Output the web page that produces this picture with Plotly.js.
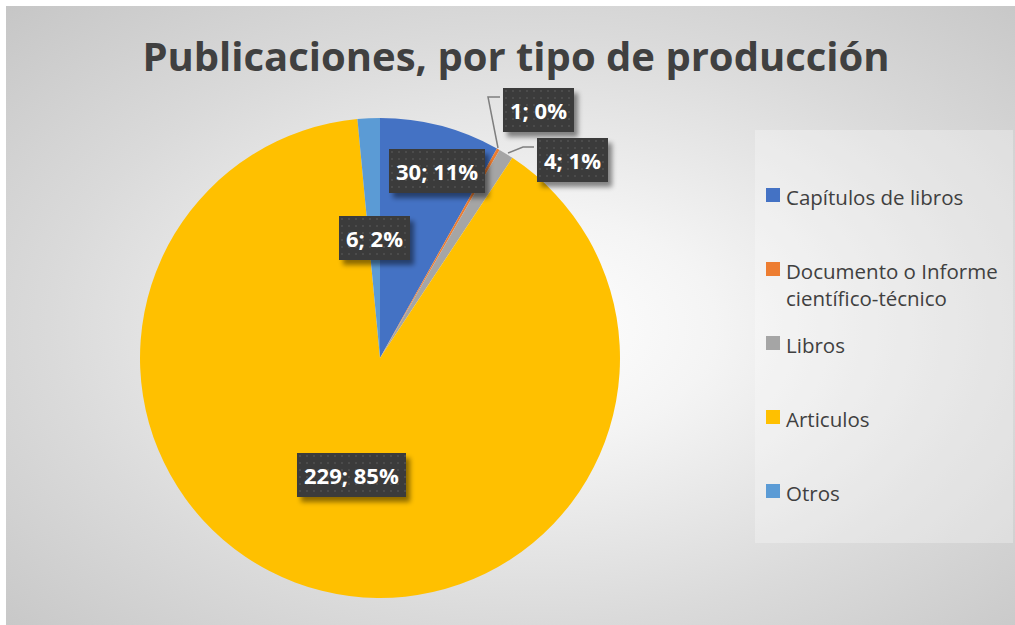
<!DOCTYPE html>
<html>
<head>
<meta charset="utf-8">
<script src="https://cdn.plot.ly/plotly-3.0.1.min.js"></script>
<style>
  html, body { margin: 0; padding: 0; background: #ffffff; }
  #bg {
    position: absolute; left: 6px; top: 6px; width: 1009px; height: 619px;
    background: radial-gradient(ellipse farthest-corner at 52% 52%, #ffffff 0%, #f4f4f4 25%, #dadada 65%, #c6c6c6 100%);
  }
  #chart { position: absolute; left: 0; top: 0; width: 1015px; height: 625px; }
</style>
</head>
<body>
<div id="bg"></div>
<div id="chart"></div>
<script>
// ---- data ----
const categories = ["Capítulos de libros", "Documento o Informe científico-técnico", "Libros", "Articulos", "Otros"];
const legendText = ["Capítulos de libros", "Documento o Informe<br>científico-técnico", "Libros", "Articulos", "Otros"];
// values printed on the data labels
const counts = [30, 1, 4, 229, 6];
// slice shares (%) as drawn in the picture (the drawn wedges do not follow the printed counts)
const sliceShares = [8.1, 0.2, 1.0, 89.2, 1.5];
const sliceColors = ["#4472C4", "#ED7D31", "#A5A5A5", "#FFC000", "#5B9BD5"];
const chartTitle = "Publicaciones, por tipo de producción";

// ---- layout helpers (pixel -> paper) ----
const W = 1015, H = 625;
const px = x => x / W;
const py = y => 1 - y / H;

const total = counts.reduce((a, b) => a + b, 0);

// label box centres (layout)
const labelPos = [[437, 171], [538, 110], [572, 160], [351, 475], [374, 238]];

const annotations = [];
const shapes = [];

// legend backdrop
shapes.push({type: 'rect', xref: 'paper', yref: 'paper', x0: px(755), x1: px(1013), y0: py(130), y1: py(543),
  fillcolor: 'rgba(255,255,255,0.28)', line: {width: 0}, layer: 'below'});

// leader lines
shapes.push({type: 'path', xref: 'paper', yref: 'paper',
  path: `M ${px(498)} ${py(148)} L ${px(488)} ${py(97)} L ${px(500)} ${py(97)}`,
  line: {color: '#7f7f7f', width: 1.5}});
shapes.push({type: 'path', xref: 'paper', yref: 'paper',
  path: `M ${px(508)} ${py(153)} L ${px(523)} ${py(147)} L ${px(534)} ${py(147)}`,
  line: {color: '#7f7f7f', width: 1.5}});

// data labels
counts.forEach((v, i) => {
  const txt = `${v}; ${Math.round(v / total * 100)}%`;
  annotations.push({xref: 'paper', yref: 'paper', x: px(labelPos[i][0]), y: py(labelPos[i][1]),
    xanchor: 'center', yanchor: 'middle', showarrow: false, borderpad: 7, borderwidth: 0,
    text: '<b>' + txt + '</b>', bgcolor: '#3c3c3c',
    font: {family: 'Open Sans', size: 22, color: '#ffffff'}});
});

// manual legend
const legFont = 20.5;
categories.forEach((c, i) => {
  const cy = 195 + 74 * i;
  shapes.push({type: 'rect', xref: 'paper', yref: 'paper', x0: px(766), x1: px(780), y0: py(cy + 7), y1: py(cy - 7),
    fillcolor: sliceColors[i], line: {width: 0}});
  annotations.push({xref: 'paper', yref: 'paper', x: px(784), y: py(cy - 0.68 * legFont), xanchor: 'left', yanchor: 'top',
    align: 'left', showarrow: false, text: legendText[i],
    font: {family: 'Open Sans', size: legFont, color: '#404040'}});
});

const trace = {
  type: 'pie',
  labels: categories,
  values: sliceShares,
  customdata: counts,
  sort: false,
  direction: 'clockwise',
  rotation: 0,
  textinfo: 'none',
  marker: {colors: sliceColors, line: {width: 0}},
  domain: {x: [px(140), px(620)], y: [py(598), py(118)]},
  showlegend: false
};

const layout = {
  width: W, height: H,
  margin: {l: 0, r: 0, t: 0, b: 0},
  paper_bgcolor: 'rgba(0,0,0,0)',
  plot_bgcolor: 'rgba(0,0,0,0)',
  title: {text: '<b>' + chartTitle + '</b>', x: px(516), xanchor: 'center', y: py(57), yanchor: 'middle',
    font: {family: 'Open Sans', size: 40, color: '#404040'}},
  showlegend: false,
  annotations: annotations,
  shapes: shapes
};

Plotly.newPlot('chart', [trace], layout, {displayModeBar: false, staticPlot: true}).then(gd => {
  const ns = 'http://www.w3.org/2000/svg';
  const svg = gd.querySelector('svg.main-svg');
  let defs = svg.querySelector('defs');
  if (!defs) { defs = document.createElementNS(ns, 'defs'); svg.insertBefore(defs, svg.firstChild); }
  const f = document.createElementNS(ns, 'filter');
  f.setAttribute('id', 'lblshadow');
  f.setAttribute('x', '-20%'); f.setAttribute('y', '-30%');
  f.setAttribute('width', '150%'); f.setAttribute('height', '170%');
  f.innerHTML = '<feDropShadow dx="4" dy="5" stdDeviation="2.5" flood-color="#000000" flood-opacity="0.45"/>';
  defs.appendChild(f);
  const p = document.createElementNS(ns, 'pattern');
  p.setAttribute('id', 'lbldots');
  p.setAttribute('patternUnits', 'userSpaceOnUse');
  p.setAttribute('width', '7'); p.setAttribute('height', '7');
  p.innerHTML = '<rect width="7" height="7" fill="#3a3a3a"/><rect x="2" y="2" width="2" height="2" fill="#4b4b4b"/>';
  defs.appendChild(p);
  const anns = gd.querySelectorAll('.annotation');
  anns.forEach((a, i) => {
    if (i < counts.length) {
      const r = a.querySelector('rect.bg');
      if (r) { r.setAttribute('filter', 'url(#lblshadow)'); r.style.fill = 'url(#lbldots)'; }
    }
  });
});
</script>
</body>
</html>
